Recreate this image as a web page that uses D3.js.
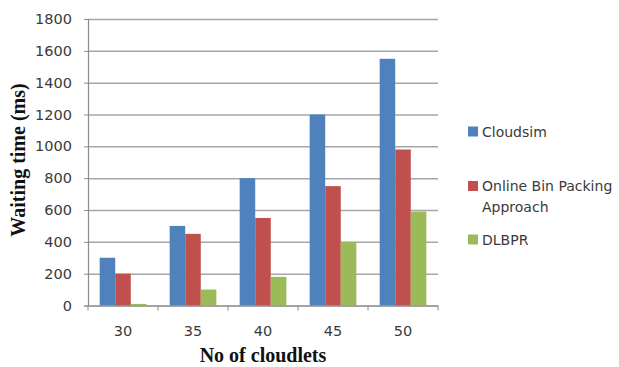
<!DOCTYPE html>
<html>
<head>
<meta charset="utf-8">
<script src="https://cdn.jsdelivr.net/npm/d3@7"></script>
<style>
  html, body { margin: 0; padding: 0; background: #fff; }
  svg { display: block; }
  .tick text { font-family: "DejaVu Sans", sans-serif; fill: #3a3a3a; }
</style>
</head>
<body>
<svg id="chart" width="619" height="367"></svg>
<script>
// Waiting time per number of cloudlets, three scheduling approaches
const categories = ["30", "35", "40", "45", "50"];
const seriesNames = ["Cloudsim", "Online Bin Packing Approach", "DLBPR"];
const cloudsim = [300, 500, 800, 1200, 1550];
const onlineBinPacking = [200, 450, 550, 750, 980];
const dlbpr = [10, 100, 180, 400, 590];
const yTicks = [0, 200, 400, 600, 800, 1000, 1200, 1400, 1600, 1800];
const colors = ["#4f81bd", "#c0504d", "#9bbb59"];

const seriesValues = [cloudsim, onlineBinPacking, dlbpr];

const svg = d3.select("#chart");
const plot = { left: 88, right: 438, top: 19, bottom: 305.5 };

const x = d3.scaleBand().domain(categories).range([plot.left, plot.right]).padding(0);
// Bars occupy 3 of 4.5 bar-widths in each category (150% gap)
const barW = x.bandwidth() / 4.5;
const inner = d3.scaleBand().domain(d3.range(seriesNames.length))
  .range([barW * 0.75, x.bandwidth() - barW * 0.75])
  .padding(0);
const y = d3.scaleLinear().domain([0, 1800]).range([plot.bottom, plot.top]);

// Horizontal gridlines
svg.append("g")
  .attr("transform", `translate(${plot.left},0)`)
  .call(d3.axisLeft(y).tickValues(yTicks).tickSize(-(plot.right - plot.left)).tickFormat(""))
  .call(g => g.select(".domain").remove())
  .call(g => g.selectAll("line").attr("stroke", "#a6a6a6").attr("stroke-width", 1.5));

// Bars
const groups = svg.append("g").selectAll("g")
  .data(categories)
  .join("g")
  .attr("transform", d => `translate(${x(d)},0)`);

groups.selectAll("rect")
  .data((d, i) => seriesValues.map((vals, s) => ({ s, v: vals[i] })))
  .join("rect")
  .attr("x", d => inner(d.s))
  .attr("width", inner.bandwidth())
  .attr("y", d => y(d.v))
  .attr("height", d => y(0) - y(d.v))
  .attr("fill", d => colors[d.s]);

// Y axis
svg.append("g")
  .attr("transform", `translate(${plot.left},0)`)
  .call(d3.axisLeft(y).tickValues(yTicks).tickFormat(d3.format("d")).tickSize(4).tickPadding(12))
  .call(g => g.select(".domain").attr("stroke", "#8c8c8c").attr("stroke-width", 1.2))
  .call(g => g.selectAll(".tick line").attr("stroke", "#8c8c8c"))
  .call(g => g.selectAll(".tick text").attr("font-size", 14.5));

// X axis: baseline, labels at category centres, ticks at category boundaries
const xAxis = svg.append("g")
  .attr("transform", `translate(0,${plot.bottom})`)
  .call(d3.axisBottom(x).tickSize(0).tickPadding(20))
  .call(g => g.select(".domain").attr("stroke", "#8c8c8c").attr("stroke-width", 1.2))
  .call(g => g.selectAll(".tick text").attr("font-size", 14.5));

const boundaries = categories.map(c => x(c)).concat([x(categories[categories.length - 1]) + x.bandwidth()]);
xAxis.selectAll("line.boundary")
  .data(boundaries)
  .join("line")
  .attr("class", "boundary")
  .attr("x1", d => d).attr("x2", d => d)
  .attr("y1", 0).attr("y2", 5)
  .attr("stroke", "#8c8c8c");

// Axis titles
svg.append("text")
  .attr("x", 263).attr("y", 362)
  .attr("text-anchor", "middle")
  .attr("font-family", "'Liberation Serif', 'Times New Roman', serif")
  .attr("font-weight", "bold")
  .attr("font-size", 20)
  .attr("fill", "#111")
  .text("No of cloudlets");

svg.append("text")
  .attr("transform", "translate(25,160) rotate(-90)")
  .attr("text-anchor", "middle")
  .attr("font-family", "'Liberation Serif', 'Times New Roman', serif")
  .attr("font-weight", "bold")
  .attr("font-size", 20)
  .attr("fill", "#111")
  .text("Waiting time (ms)");

// Legend
const legendItems = [
  { name: seriesNames[0], lines: ["Cloudsim"], cy: 131.5 },
  { name: seriesNames[1], lines: ["Online Bin Packing", "Approach"], cy: 186 },
  { name: seriesNames[2], lines: ["DLBPR"], cy: 239.5 }
];
const legend = svg.append("g");
legendItems.forEach((item, i) => {
  legend.append("rect")
    .attr("x", 468).attr("y", item.cy - 5)
    .attr("width", 10).attr("height", 10)
    .attr("fill", colors[i]);
  const t = legend.append("text")
    .attr("font-family", "'DejaVu Sans', sans-serif")
    .attr("font-size", 14)
    .attr("fill", "#3a3a3a");
  item.lines.forEach((ln, j) => {
    t.append("tspan")
      .attr("x", 482)
      .attr("y", item.cy + 5 + j * 21)
      .text(ln);
  });
});
</script>
</body>
</html>
